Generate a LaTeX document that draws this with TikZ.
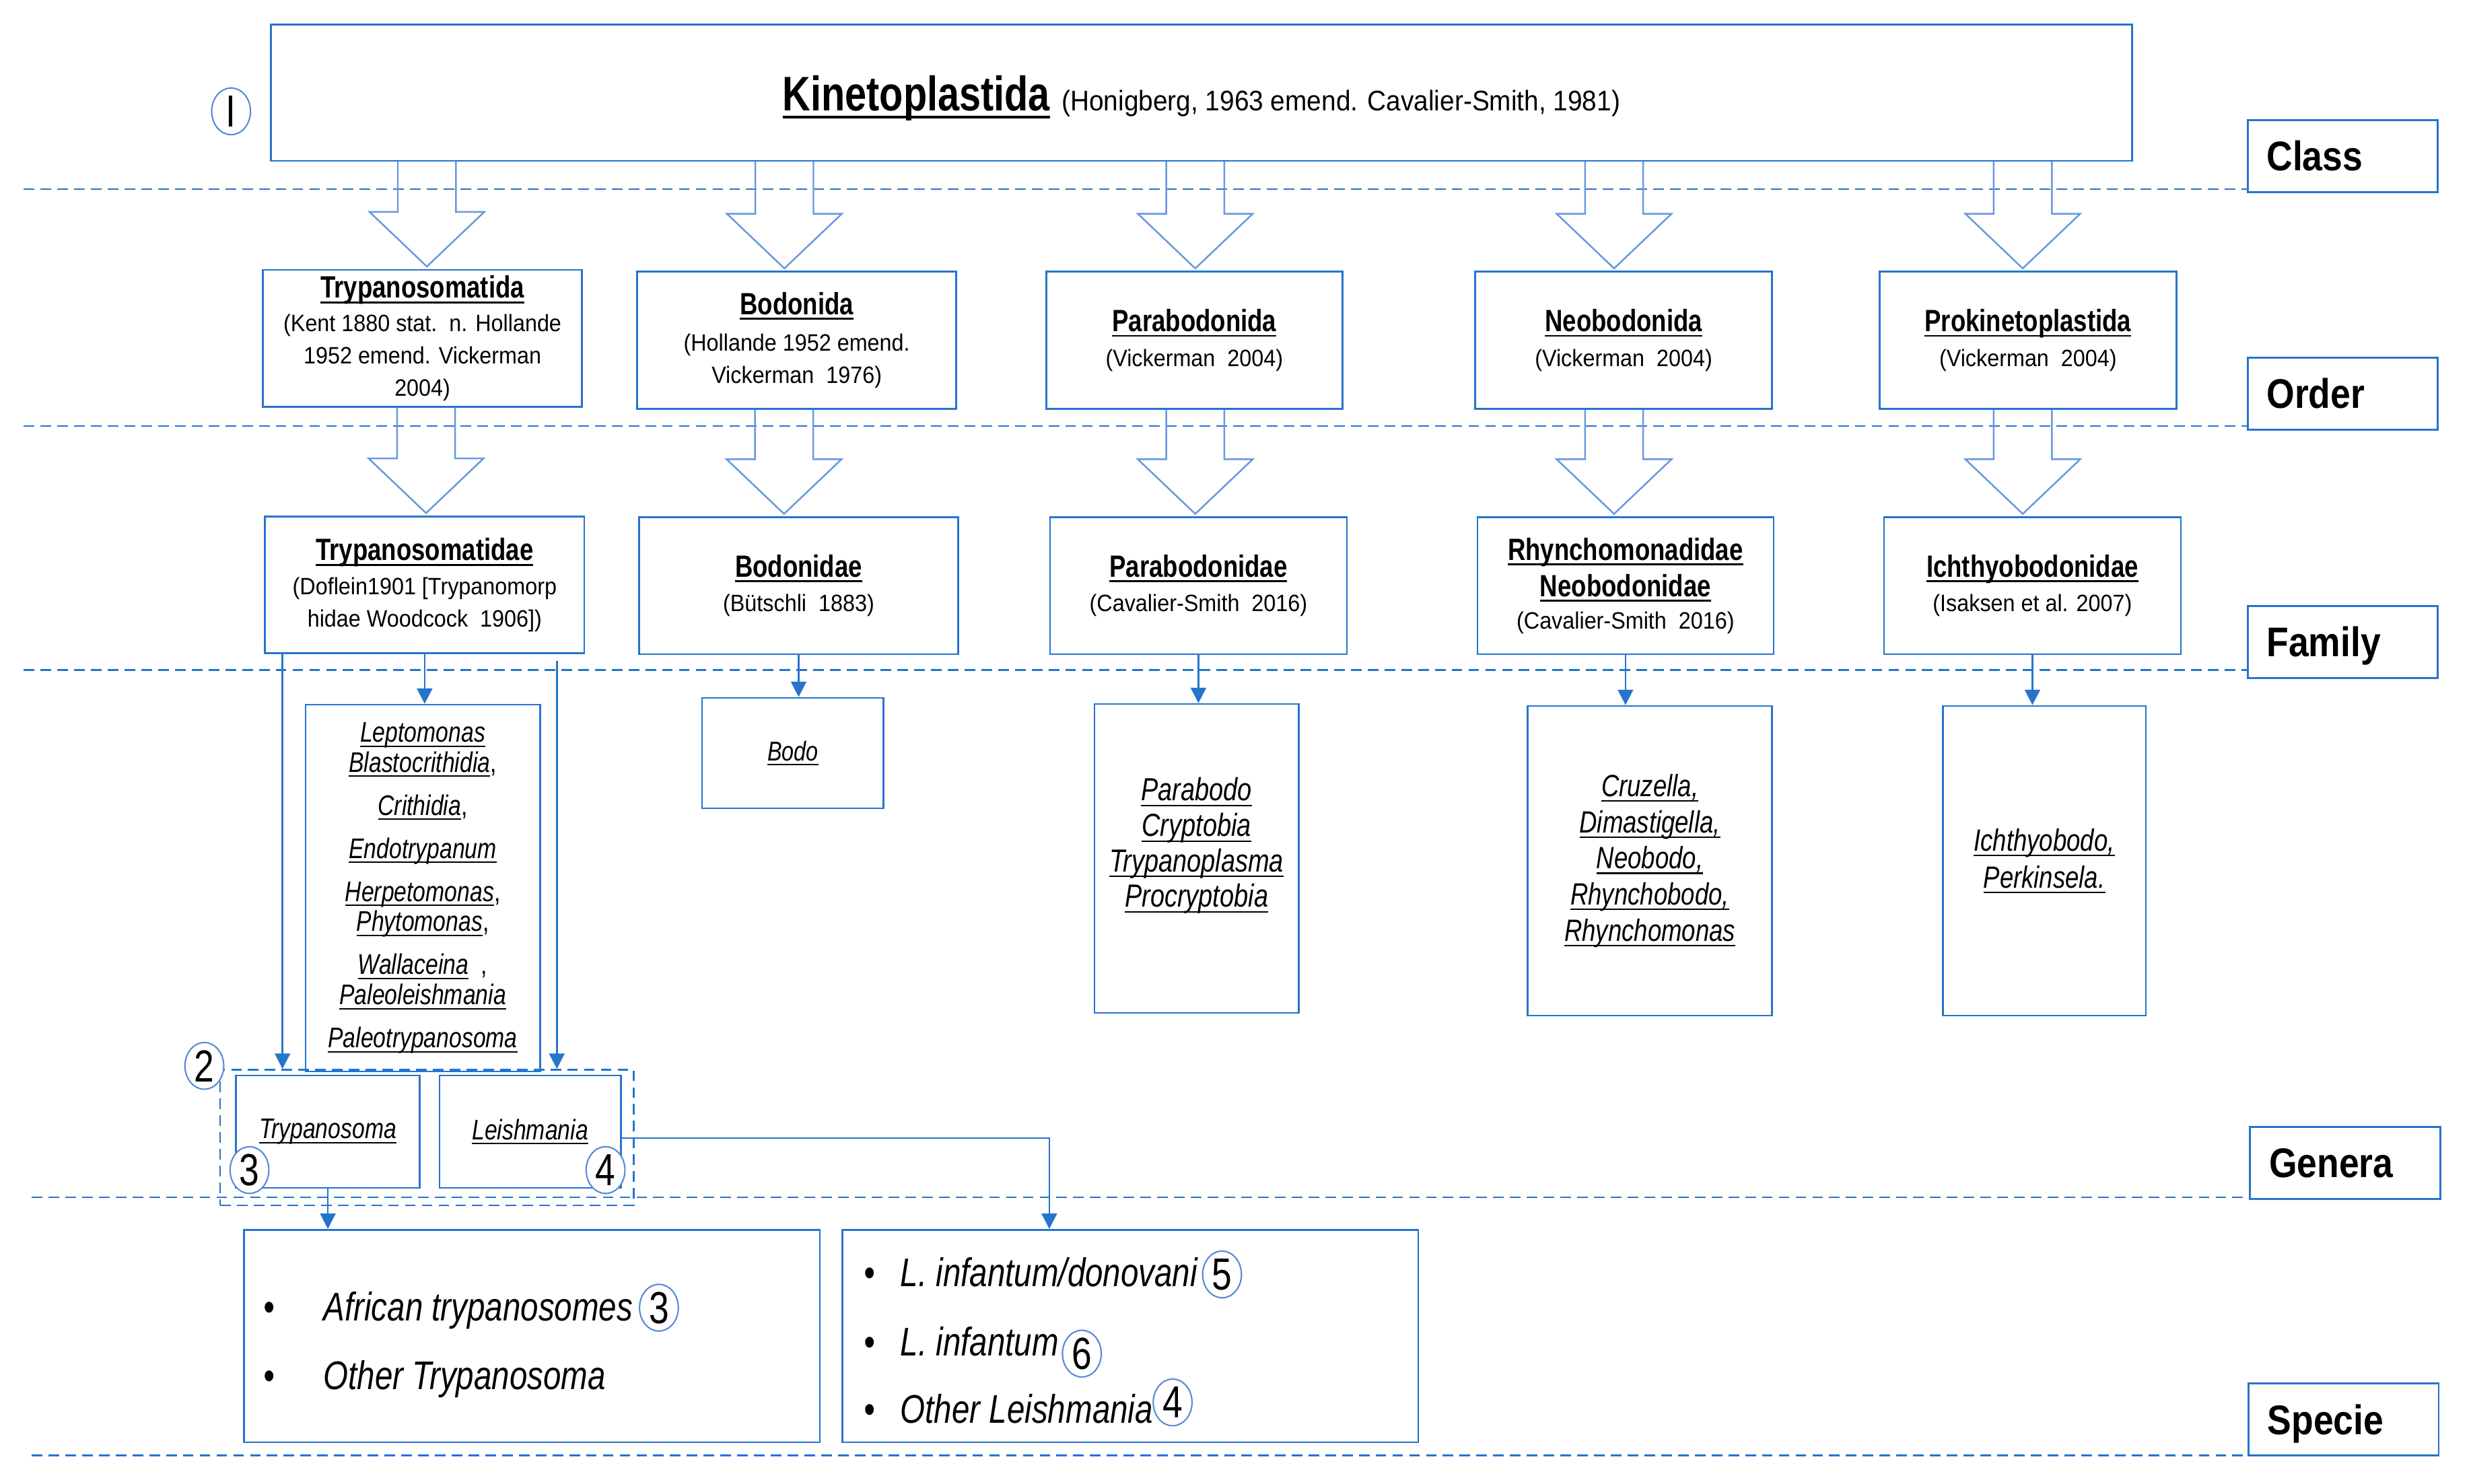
\documentclass[tikz,border=0pt]{standalone}
\usepackage{fontspec}
\setmainfont{Liberation Sans}[FakeStretch=0.8]
\newfontfamily\citefont{Liberation Sans}[FakeStretch=0.92]
\newfontfamily\rankfont{Liberation Sans}[FakeStretch=0.87]
\usetikzlibrary{arrows.meta, calc, shapes.geometric}
\definecolor{boxblue}{RGB}{38,116,204}
\definecolor{arrblue}{RGB}{104,152,222}
\definecolor{ringblue}{RGB}{86,138,216}
\newcommand{\dd}{0.02353cm}
% underline with a given thickness
\newcommand{\ulin}[2][0.6pt]{\leavevmode\setbox0=\hbox{#2}\rlap{\rule[-0.17em]{\wd0}{#1}}\box0}
% taxon title and genus name
\newcommand{\tx}[1]{{\rmfamily\bfseries\fontsize{13}{15}\selectfont\ulin[0.8pt]{#1}}}
\newcommand{\gn}[1]{{\itshape\ulin{#1}}}
% hollow block arrow from one rank to the next
\newcommand{\blockarr}[3]{%
  \draw[bigarrow] ($(#1.south -| #2.north)+(#3-18.35,0)$) -- ($(#2.north)+(#3-18.35,-36)$)
    -- ($(#2.north)+(#3-36.25,-36)$) -- ($(#2.north)+(#3,-1.5)$) -- ($(#2.north)+(#3+36.25,-36)$)
    -- ($(#2.north)+(#3+18.35,-36)$) -- ($(#1.south -| #2.north)+(#3+18.35,0)$);}

\begin{document}
\begin{tikzpicture}[x=\dd, y=-\dd, line join=miter,
  level/.style={draw=boxblue, line width=0.7pt, dash pattern=on 4.5pt off 2.6pt},
  box/.style={draw=boxblue, line width=0.75pt, rectangle, inner sep=0pt, align=center},
  sz/.style 2 args={minimum width=#1*\dd, minimum height=#2*\dd},
  taxon/.style={box, font=\citefont\fontsize{10}{13.6}\selectfont},
  genus/.style={box, font=\fontsize{12}{12.7}\selectfont},
  spec/.style={anchor=base west, inner sep=0pt, font=\itshape\fontsize{16.9}{20}\selectfont},
  rank/.style={box, sz={120}{45.5}, align=left, text width=2.259cm, inner xsep=0.2824cm,
    text height=12.5pt, text depth=0pt, font=\rankfont\bfseries\fontsize{17.5}{20}\selectfont},
  ring/.style={ellipse, draw=ringblue, fill=white, line width=0.6pt, inner sep=0pt,
    minimum width=24.5*\dd, minimum height=29.5*\dd, font=\fontsize{19}{19}\selectfont},
  bigarrow/.style={draw=arrblue, line width=0.7pt},
  arr/.style={draw=boxblue, line width=0.7pt, -{Triangle[width=6.5pt,length=6.5pt]}}]
\useasboundingbox (0,0) rectangle (1560,936.7);

% rank labels and level lines
\node[rank] (lclass) at (1479,98.5) {Class};
\node[rank] (lorder) at (1479,248.5) {Order};
\node[rank] (lfamily) at (1479,405.3) {Family};
\node[rank] (lgenera) at (1480.5,734.3) {Genera};
\node[rank] (lspecie) at (1479.5,896.3) {Specie};
\foreach \yy/\xx/\rk in {119.5/15/lclass, 269/15/lorder, 423/15/lfamily, 756/20/lgenera, 918.9/20/lspecie}
  \draw[level] (\xx,\yy) coordinate (lv) -- (lv -| \rk.west);

% class
\node[box, sz={1175}{86}, text height=15pt, text depth=0pt] (kin) at (758.5,58.5)
  {{\fontsize{20.5}{24}\selectfont\bfseries\ulin[1.2pt]{Kinetoplastida}}\hspace{5pt}{\citefont\fontsize{12}{14}\selectfont(Honigberg, 1963 emend. Cavalier-Smith, 1981)}};

% orders
\node[taxon, sz={201.6}{86.5}] (o1) at (266.7,213.6) {\tx{Trypanosomatida}\\[0.5pt](Kent 1880 stat.\ \ n. Hollande\\1952 emend. Vickerman\\2004)};
\node[taxon, sz={201.4}{86.5}] (o2) at (503,214.8) {\tx{Bodonida}\\[1.8pt](Hollande 1952 emend.\\Vickerman\ \ 1976)};
\node[taxon, sz={187}{86.5}] (o3) at (754,214.8) {\tx{Parabodonida}\\[1pt](Vickerman\ \ 2004)};
\node[taxon, sz={187.4}{86.5}] (o4) at (1025,214.8) {\tx{Neobodonida}\\[1pt](Vickerman\ \ 2004)};
\node[taxon, sz={187.4}{86.5}] (o5) at (1280.3,214.8) {\tx{Prokinetoplastida}\\[1pt](Vickerman\ \ 2004)};

% families
\node[taxon, sz={201.6}{86.5}] (f1) at (268.1,369.3) {\tx{Trypanosomatidae}\\[0.8pt](Doflein1901 [Trypanomorp\\hidae Woodcock\ \ 1906])};
\node[taxon, sz={201.6}{86.5}] (f2) at (504.2,369.8) {\tx{Bodonidae}\\[1pt](Bütschli\ \ 1883)};
\node[taxon, sz={187.3}{86.5}] (f3) at (756.6,369.8) {\tx{Parabodonidae}\\[1pt](Cavalier-Smith\ \ 2016)};
\node[taxon, sz={187}{86.5}] (f4) at (1026.2,369.8) {\tx{Rhynchomonadidae}\\[1.8pt]\tx{Neobodonidae}\\(Cavalier-Smith\ \ 2016)};
\node[taxon, sz={187.4}{86.5}] (f5) at (1283.1,369.8) {\tx{Ichthyobodonidae}\\[1pt](Isaksen et al. 2007)};

\foreach \a/\b/\s in {kin/o1/2.8, kin/o2/-7.8, kin/o3/0.6, kin/o4/-6, kin/o5/-3.3,
    o1/f1/0.9, o2/f2/-9.2, o3/f3/-2, o4/f4/-7.2, o5/f5/-6.1}
  {\blockarr{\a}{\b}{\s}}

% genera
\node[genus, sz={148}{231.5}] (g1) at (266.9,560.7) {\gn{Leptomonas}\\\gn{Blastocrithidia},\\[5.5pt]\gn{Crithidia},\\[5.5pt]\gn{Endotrypanum}\\[5.5pt]\gn{Herpetomonas},\\\gn{Phytomonas},\\[5.5pt]\gn{Wallaceina}\ \ ,\\\gn{Paleoleishmania}\\[5.5pt]\gn{Paleotrypanosoma}};
\node[genus, sz={114.6}{69.7}, font=\fontsize{11.5}{13}\selectfont] (g2) at (500.5,475.5) {\gn{Bodo}};
\node[genus, sz={129}{195}, font=\fontsize{13.5}{15}\selectfont] (g3) at (755.4,542) {\gn{Parabodo}\\\gn{Cryptobia}\\\gn{Trypanoplasma}\\\gn{Procryptobia}\\[-1.5pt]\mbox{}};
\node[genus, sz={154.4}{195.5}, font=\fontsize{13}{15.3}\selectfont] (g4) at (1041.6,543.5) {\gn{Cruzella,}\\\gn{Dimastigella,}\\\gn{Neobodo,}\\\gn{Rhynchobodo,}\\\gn{Rhynchomonas}};
\node[genus, sz={128.2}{195.5}, font=\fontsize{13}{15.7}\selectfont] (g5) at (1290.6,543.5) {\gn{Ichthyobodo,}\\\gn{Perkinsela.}};

\node[draw=boxblue, line width=0.7pt, dash pattern=on 4.5pt off 2.6pt, inner sep=0pt, sz={261}{85.6}] (grp) at (269.5,718.2) {};
\node[genus, sz={116}{71}] (tryp) at (207,714.5) {\gn{Trypanosoma}};
\node[genus, sz={114.5}{71}] (leish) at (334.7,714.5) {\gn{Leishmania}};

\foreach \f/\g in {f1/g1, f2/g2, f3/g3, f4/g4, f5/g5}
  \draw[arr] (\f.south) -- (\f.south |- \g.north);
\draw[arr] ($(f1.south west)+(11.6,0)$) coordinate (tl) -- (tl |- grp.north);
\draw[arr] ($(f1.south east)+(-17.9,4)$) coordinate (tr) -- (tr |- grp.north);

% species
\node[box, sz={363.6}{134.2}] (s1) at (335.8,843.6) {};
\node[box, sz={363.6}{134.2}] (s2) at (713.5,843.6) {};
\node[spec] (sp1) at (166,834) {\makebox[25.4pt][l]{\textbullet}African trypanosomes};
\node[spec] (sp2) at (166,877.4) {\makebox[25.4pt][l]{\textbullet}Other Trypanosoma};
\node[spec] (sp3) at (545.2,812.5) {\makebox[15.4pt][l]{\textbullet}L. infantum/donovani};
\node[spec] (sp4) at (545.2,855.9) {\makebox[15.4pt][l]{\textbullet}L. infantum};
\node[spec] (sp5) at (545.2,898.5) {\makebox[15.4pt][l]{\textbullet}Other Leishmania};

\draw[arr] (tryp.south) -- (tryp.south |- s1.north);
\coordinate (lin) at ($(s2.north west)+(131.3,0)$);
\draw[arr] ($(leish.east)+(0,4)$) -| (lin);

% numbered rings
\node[ring] (numI) at (145.9,70.3) {I};
\node[ring] (num2) at (129,673) {2};
\node[ring] (num3a) at (157.5,738.8) {3};
\node[ring] (num4a) at (382.3,738.8) {4};
\node[ring] (num3b) at (416,825.7) {3};
\node[ring] (num5) at (771.5,804.7) {5};
\node[ring] (num6) at (683,854.7) {6};
\node[ring] (num4b) at (740.3,885.5) {4};
\end{tikzpicture}
\end{document}
